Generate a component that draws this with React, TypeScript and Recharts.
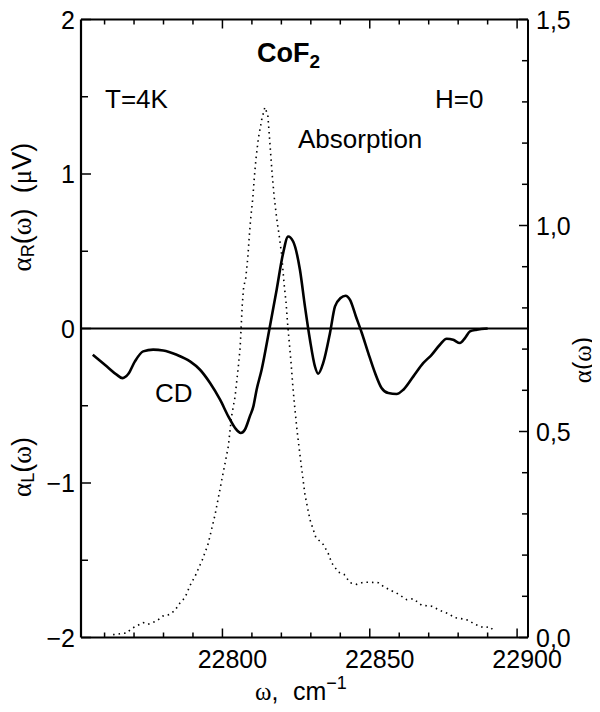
import React from 'react';
import { ComposedChart, Line, XAxis, YAxis, ReferenceLine } from 'recharts';

const cdOmega = [22756.0, 22760.7, 22764.1, 22766.1, 22768.1, 22770.3, 22773.1, 22776.5, 22779.9, 22784.5, 22789.0, 22792.4, 22795.8, 22799.2, 22802.0, 22804.3, 22806.2, 22807.6, 22809.3, 22810.5, 22811.6, 22813.3, 22815.9, 22818.4, 22820.6, 22822.3, 22824.0, 22826.3, 22828.0, 22829.7, 22831.4, 22832.5, 22834.2, 22836.5, 22838.2, 22840.1, 22841.8, 22843.3, 22845.3, 22847.3, 22849.5, 22851.8, 22854.0, 22856.3, 22859.1, 22861.4, 22864.8, 22868.2, 22871.0, 22873.8, 22876.1, 22878.3, 22880.6, 22882.3, 22884.0, 22886.3, 22890.0];
const cdValue = [-0.170, -0.245, -0.299, -0.321, -0.293, -0.213, -0.148, -0.137, -0.142, -0.170, -0.213, -0.267, -0.353, -0.461, -0.569, -0.644, -0.676, -0.655, -0.569, -0.504, -0.396, -0.267, -0.008, 0.251, 0.488, 0.595, 0.563, 0.380, 0.143, -0.073, -0.246, -0.293, -0.223, -0.029, 0.143, 0.197, 0.212, 0.185, 0.078, -0.029, -0.159, -0.288, -0.385, -0.418, -0.424, -0.396, -0.310, -0.223, -0.170, -0.105, -0.066, -0.073, -0.094, -0.062, -0.019, -0.008, 0.0];

const absOmega = [22762.9, 22767.5, 22769.2, 22773.1, 22774.7, 22777.7, 22779.8, 22782.2, 22783.9, 22785.6, 22787.3, 22789.0, 22791.0, 22793.2, 22795.1, 22797.5, 22799.8, 22802.0, 22803.1, 22804.3, 22805.4, 22806.0, 22806.7, 22807.2, 22807.9, 22808.6, 22809.1, 22809.6, 22810.3, 22810.8, 22811.4, 22812.2, 22813.3, 22814.4, 22815.4, 22815.9, 22816.4, 22816.9, 22817.5, 22818.2, 22818.7, 22819.2, 22820.1, 22820.9, 22821.6, 22822.1, 22822.7, 22823.3, 22823.8, 22824.4, 22825.3, 22826.7, 22828.0, 22829.7, 22831.7, 22834.2, 22835.9, 22837.1, 22839.3, 22841.3, 22843.3, 22845.6, 22847.8, 22850.1, 22852.9, 22854.6, 22856.9, 22859.1, 22862.5, 22864.8, 22867.6, 22871.0, 22874.4, 22876.6, 22878.9, 22881.7, 22883.4, 22885.7, 22888.5, 22890.8, 22892.5];
const absValue = [0.007, 0.011, 0.022, 0.036, 0.032, 0.040, 0.052, 0.056, 0.066, 0.084, 0.097, 0.126, 0.153, 0.189, 0.226, 0.298, 0.383, 0.464, 0.537, 0.585, 0.658, 0.703, 0.804, 0.851, 0.872, 0.921, 0.973, 1.018, 1.066, 1.115, 1.163, 1.212, 1.256, 1.287, 1.268, 1.220, 1.171, 1.123, 1.074, 1.030, 1.002, 0.979, 0.929, 0.860, 0.812, 0.763, 0.715, 0.666, 0.618, 0.569, 0.504, 0.420, 0.347, 0.286, 0.243, 0.226, 0.204, 0.181, 0.159, 0.153, 0.133, 0.129, 0.134, 0.134, 0.133, 0.124, 0.115, 0.108, 0.092, 0.094, 0.078, 0.076, 0.064, 0.058, 0.048, 0.045, 0.042, 0.032, 0.024, 0.026, 0.013];

const xTicks = [22760, 22770, 22780, 22790, 22800, 22810, 22820, 22830, 22840, 22850, 22860, 22870, 22880, 22890, 22900];
const xMajor = [22800, 22850, 22900];
const leftTicks = [-2, -1.5, -1, -0.5, 0, 0.5, 1, 1.5, 2];
const leftLabels: Record<string, string> = { '-2': '\u22122', '-1': '\u22121', '0': '0', '1': '1', '2': '2' };
const rightTicks = [0, 0.1, 0.2, 0.3, 0.4, 0.5, 0.6, 0.7, 0.8, 0.9, 1.0, 1.1, 1.2, 1.3, 1.4, 1.5];
const rightMajor = [0, 0.5, 1.0, 1.5];

const cdData = cdOmega.map((w, i) => ({ w, v: cdValue[i] }));
const absData = absOmega.map((w, i) => ({ w, a: absValue[i] }));

const SANS = '"Liberation Sans", Arial, Helvetica, sans-serif';
const SERIF = '"Liberation Serif", "Times New Roman", serif';

const PLOT_H = 618;

// bottom axis tick: draws the inward tick at the bottom frame and the mirrored tick on the top frame
const BottomTick = (p: any) => {
  const { x, y, payload } = p;
  const major = xMajor.includes(payload.value);
  const len = major ? 9 : 5;
  return (
    <g>
      <line x1={x} x2={x} y1={y} y2={y - len} stroke="#000" strokeWidth={1.5} />
      <line x1={x} x2={x} y1={y - PLOT_H} y2={y - PLOT_H + len} stroke="#000" strokeWidth={1.5} />
      {major && (
        <text x={x + 10} y={y + 30} textAnchor="middle" fontSize={25} fontFamily={SANS} fill="#000">
          {payload.value}
        </text>
      )}
    </g>
  );
};

const LeftTick = (p: any) => {
  const { x, y, payload } = p;
  const v = payload.value;
  const major = Number.isInteger(v);
  return (
    <g>
      <line x1={x} x2={x + (major ? 10 : 7)} y1={y} y2={y} stroke="#000" strokeWidth={1.5} />
      {major && (
        <text x={x - 6} y={y + 9} textAnchor="end" fontSize={25} fontFamily={SANS} fill="#000">
          {leftLabels[String(v)]}
        </text>
      )}
    </g>
  );
};

const RightTick = (p: any) => {
  const { x, y, payload } = p;
  const v = payload.value;
  const major = rightMajor.some((m) => Math.abs(m - v) < 1e-6);
  return (
    <g>
      <line x1={x} x2={x - (major ? 9 : 6)} y1={y} y2={y} stroke="#000" strokeWidth={1.5} />
      {major && (
        <text x={x + 8} y={y + 9} textAnchor="start" fontSize={25} fontFamily={SANS} fill="#000">
          {v.toFixed(1).replace('.', ',')}
        </text>
      )}
    </g>
  );
};

export default function App() {
  const W = 584;
  const H = 696;
  return (
    <div style={{ position: 'relative', width: 584, height: H }}>
      <ComposedChart width={W} height={H} margin={{ top: 11.5, right: 4, bottom: 6.5, left: 13 }}>
        <XAxis
          xAxisId="b"
          dataKey="w"
          type="number"
          domain={[22752, 22903.7]}
          ticks={xTicks}
          interval={0}
          allowDataOverflow
          height={60}
          tickSize={0}
          tickMargin={0}
          tickLine={false}
          axisLine={{ stroke: '#000', strokeWidth: 2.2 }}
          tick={<BottomTick />}
        />
        <YAxis
          yAxisId="l"
          type="number"
          domain={[-2, 2]}
          ticks={leftTicks}
          interval={0}
          allowDataOverflow
          width={60}
          tickSize={0}
          tickMargin={0}
          tickLine={false}
          axisLine={{ stroke: '#000', strokeWidth: 2.2 }}
          tick={<LeftTick />}
        />
        <YAxis
          yAxisId="r"
          orientation="right"
          type="number"
          domain={[0, 1.5]}
          ticks={rightTicks}
          interval={0}
          allowDataOverflow
          width={60}
          tickSize={0}
          tickMargin={0}
          tickLine={false}
          axisLine={{ stroke: '#000', strokeWidth: 2 }}
          tick={<RightTick />}
        />
        <ReferenceLine xAxisId="b" yAxisId="l" y={2} stroke="#000" strokeWidth={1.8} />
        <ReferenceLine xAxisId="b" yAxisId="l" y={0} stroke="#000" strokeWidth={2} />
        <Line
          xAxisId="b"
          yAxisId="r"
          data={absData}
          dataKey="a"
          type="linear"
          stroke="#000"
          strokeWidth={1.6}
          strokeDasharray="1.5 4"
          dot={false}
          isAnimationActive={false}
        />
        <Line
          xAxisId="b"
          yAxisId="l"
          data={cdData}
          dataKey="v"
          type="monotone"
          stroke="#000"
          strokeWidth={2.6}
          dot={false}
          isAnimationActive={false}
        />
      </ComposedChart>
      <svg width={584} height={H} style={{ position: 'absolute', left: 0, top: 0, pointerEvents: 'none', overflow: 'visible' }}>
        <g fontFamily={SANS} fill="#000">
          <text x={249} y={54} fontSize={27} fontWeight="bold">
            CoF<tspan fontSize={19} dy={6}>2</tspan>
          </text>
          <text x={97} y={100} fontSize={26}>T=4K</text>
          <text x={427} y={100} fontSize={26}>H=0</text>
          <text x={290} y={140} fontSize={26}>Absorption</text>
          <text x={147} y={394} fontSize={26}>CD</text>
          <text x={247} y={692} fontSize={25}>
            <tspan fontFamily={SERIF}>ω</tspan>,<tspan x={285}>cm</tspan><tspan fontSize={18} dy={-11}>−1</tspan>
          </text>
          <text x={14} y={160} fontSize={27} textAnchor="middle" dominantBaseline="central" transform="rotate(-90 14 160)">
            (<tspan fontFamily={SERIF}>μ</tspan>V)
          </text>
          <text x={14} y={232} fontSize={27} textAnchor="middle" dominantBaseline="central" transform="rotate(-90 14 232)">
            <tspan fontFamily={SERIF}>α</tspan><tspan fontSize={18} dy={6}>R</tspan><tspan dy={-6}>(</tspan><tspan fontFamily={SERIF}>ω</tspan>)
          </text>
          <text x={14} y={459} fontSize={27} textAnchor="middle" dominantBaseline="central" transform="rotate(-90 14 459)">
            <tspan fontFamily={SERIF}>α</tspan><tspan fontSize={18} dy={6}>L</tspan><tspan dy={-6}>(</tspan><tspan fontFamily={SERIF}>ω</tspan>)
          </text>
          <text x={574} y={352} fontSize={25} textAnchor="middle" dominantBaseline="central" transform="rotate(-90 574 352)">
            <tspan fontFamily={SERIF}>α</tspan>(<tspan fontFamily={SERIF}>ω</tspan>)
          </text>
        </g>
      </svg>
    </div>
  );
}
